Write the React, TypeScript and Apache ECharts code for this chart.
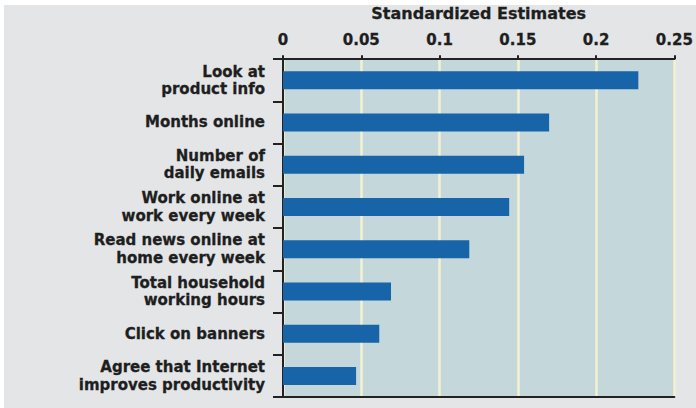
import React, { useEffect, useRef } from "react";
import * as echarts from "echarts";

const categories = [
  "Look at\nproduct info",
  "Months online",
  "Number of\ndaily emails",
  "Work online at\nwork every week",
  "Read news online at\nhome every week",
  "Total household\nworking hours",
  "Click on banners",
  "Agree that Internet\nimproves productivity",
];
const values = [0.227, 0.170, 0.154, 0.1445, 0.119, 0.069, 0.0615, 0.0467];
const axisTitle = "Standardized Estimates";

const FONT = "DejaVu Sans";
const TEXT = "#1e1e1e";

export default function App() {
  const ref = useRef<HTMLDivElement>(null);
  useEffect(() => {
    if (!ref.current) return;
    const chart = echarts.init(ref.current, null, { renderer: "svg" });
    chart.setOption({
      animation: false,
      backgroundColor: "#ffffff",
      graphic: [
        {
          type: "rect",
          z: -100,
          silent: true,
          shape: { x: 4, y: 5, width: 692, height: 403 },
          style: { fill: "#e3e5e7" },
        },
      ],
      grid: {
        left: 283,
        top: 53,
        width: 392,
        height: 344,
        show: true,
        backgroundColor: "#c4d7da",
        borderWidth: 0,
      },
      xAxis: [
        {
          type: "value",
          position: "top",
          min: 0,
          max: 0.25,
          interval: 0.05,
          name: axisTitle,
          nameLocation: "middle",
          nameGap: 38,
          nameTextStyle: {
            fontFamily: FONT,
            fontWeight: "bold",
            fontSize: 16,
            color: TEXT,
            textBorderColor: TEXT,
            textBorderWidth: 0.3,
          },
          axisLine: { show: true, lineStyle: { color: "#222", width: 2 } },
          axisTick: { show: true, inside: false, length: 4, lineStyle: { color: "#222", width: 2 } },
          axisLabel: {
            margin: 12,
            fontFamily: FONT,
            fontWeight: "bold",
            fontSize: 15,
            color: TEXT,
            textBorderColor: TEXT,
            textBorderWidth: 0.3,
            formatter: (v: number) => String(Number(v.toFixed(2))),
          },
          splitLine: { show: true, lineStyle: { color: "#f4f1d2", width: 2.5 } },
        },
        {
          type: "value",
          position: "bottom",
          min: 0,
          max: 0.25,
          interval: 0.05,
          axisLine: { show: true, lineStyle: { color: "#222", width: 2 } },
          axisTick: { show: false },
          axisLabel: { show: false },
          splitLine: { show: false },
        },
      ],
      yAxis: [
        {
          type: "category",
          data: categories,
          inverse: true,
          axisLine: { show: true, lineStyle: { color: "#222", width: 2 } },
          axisTick: { show: true, length: 10, lineStyle: { color: "#222", width: 2 } },
          axisLabel: {
            margin: 18,
            fontFamily: FONT,
            fontWeight: "bold",
            fontSize: 15,
            lineHeight: 17.5,
            color: TEXT,
            textBorderColor: TEXT,
            textBorderWidth: 0.3,
            align: "right",
          },
          splitLine: { show: false },
        },
        {
          type: "category",
          data: categories,
          inverse: true,
          position: "right",
          axisLine: { show: true, lineStyle: { color: "#222", width: 2 } },
          axisTick: { show: false },
          axisLabel: { show: false },
          splitLine: { show: false },
        },
      ],
      series: [
        {
          type: "bar",
          data: values,
          xAxisIndex: 0,
          yAxisIndex: 0,
          barWidth: 18,
          itemStyle: { color: "#1864a9" },
        },
      ],
    });
    return () => chart.dispose();
  }, []);
  return (
    <div
      ref={ref}
      style={{ position: "fixed", left: 0, top: 0, width: 696, height: 408 }}
    />
  );
}
